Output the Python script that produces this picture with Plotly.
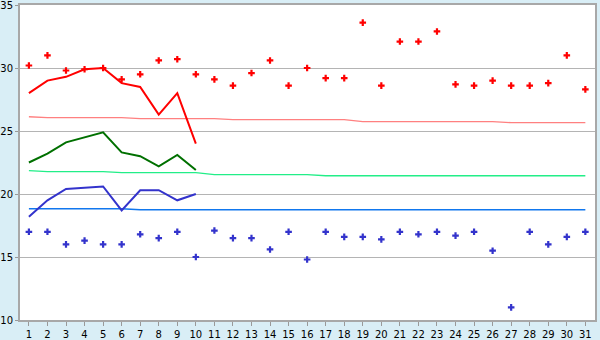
import plotly.graph_objects as go

days = list(range(1, 32))

max_daily = [30.2, 31.0, 29.8, 29.9, 30.0, 29.1, 29.5, 30.6, 30.7, 29.5,
             29.1, 28.6, 29.6, 30.6, 28.6, 30.0, 29.2, 29.2, 33.6, 28.6,
             32.1, 32.1, 32.9, 28.7, 28.6, 29.0, 28.6, 28.6, 28.8, 31.0, 28.3]
min_daily = [17.0, 17.0, 16.0, 16.3, 16.0, 16.0, 16.8, 16.5, 17.0, 15.0,
             17.1, 16.5, 16.5, 15.6, 17.0, 14.8, 17.0, 16.6, 16.6, 16.4,
             17.0, 16.8, 17.0, 16.7, 17.0, 15.5, 11.0, 17.0, 16.0, 16.6, 17.0]

line_days = list(range(1, 11))
max_line = [28.0, 29.0, 29.3, 29.9, 30.0, 28.8, 28.5, 26.3, 28.0, 24.0]
mean_line = [22.5, 23.2, 24.1, 24.5, 24.9, 23.3, 23.0, 22.2, 23.1, 21.9]
min_line = [18.2, 19.5, 20.4, 20.5, 20.6, 18.7, 20.3, 20.3, 19.5, 20.0]

max_normal = [26.13] + [26.06] * 5 + [25.98] * 5 + [25.90] * 7 + [25.74] * 8 + [25.66] * 5
mean_normal = [21.85] + [21.77] * 4 + [21.69] * 5 + [21.53] * 6 + [21.45] * 15
min_normal = [18.83] * 6 + [18.75] * 25

fig = go.Figure()
fig.add_trace(go.Scatter(x=days, y=max_normal, mode="lines",
                         line=dict(color="#ff8080", width=1.3)))
fig.add_trace(go.Scatter(x=days, y=mean_normal, mode="lines",
                         line=dict(color="#22ee88", width=1.3)))
fig.add_trace(go.Scatter(x=days, y=min_normal, mode="lines",
                         line=dict(color="#1177ee", width=1.3)))
fig.add_trace(go.Scatter(x=line_days, y=max_line, mode="lines",
                         line=dict(color="#ff0000", width=2)))
fig.add_trace(go.Scatter(x=line_days, y=mean_line, mode="lines",
                         line=dict(color="#007000", width=2)))
fig.add_trace(go.Scatter(x=line_days, y=min_line, mode="lines",
                         line=dict(color="#3333cc", width=2)))
fig.add_trace(go.Scatter(x=days, y=max_daily, mode="markers",
                         marker=dict(symbol="cross", size=5.5, color="#ff0000",
                                     line=dict(width=0))))
fig.add_trace(go.Scatter(x=days, y=min_daily, mode="markers",
                         marker=dict(symbol="cross", size=5.5, color="#3333cc",
                                     line=dict(width=0))))

fig.update_layout(
    width=600, height=340,
    margin=dict(l=20, r=5, t=5, b=20, autoexpand=False),
    paper_bgcolor="#d9eef6",
    plot_bgcolor="#ffffff",
    showlegend=False,
    font=dict(family="DejaVu Sans", size=10, color="#000000"),
    xaxis=dict(range=[0.52, 31.52], tickmode="array", tickvals=days,
               ticktext=[str(d) for d in days], showgrid=False,
               ticks="outside", ticklen=4, tickcolor="#999999",
               showline=True, linecolor="#a8a8a8", linewidth=2, mirror=True,
               zeroline=False, fixedrange=True, automargin=False,
               ticklabeloverflow="allow"),
    yaxis=dict(range=[10, 35], dtick=5, tick0=10, showgrid=True,
               gridcolor="#b4b4b4", gridwidth=1,
               ticks="outside", ticklen=3, tickcolor="#999999",
               showline=True, linecolor="#a8a8a8", linewidth=2, mirror=True,
               zeroline=False, fixedrange=True, automargin=False,
               ticklabeloverflow="allow"),
)

fig.write_html("out.html")
